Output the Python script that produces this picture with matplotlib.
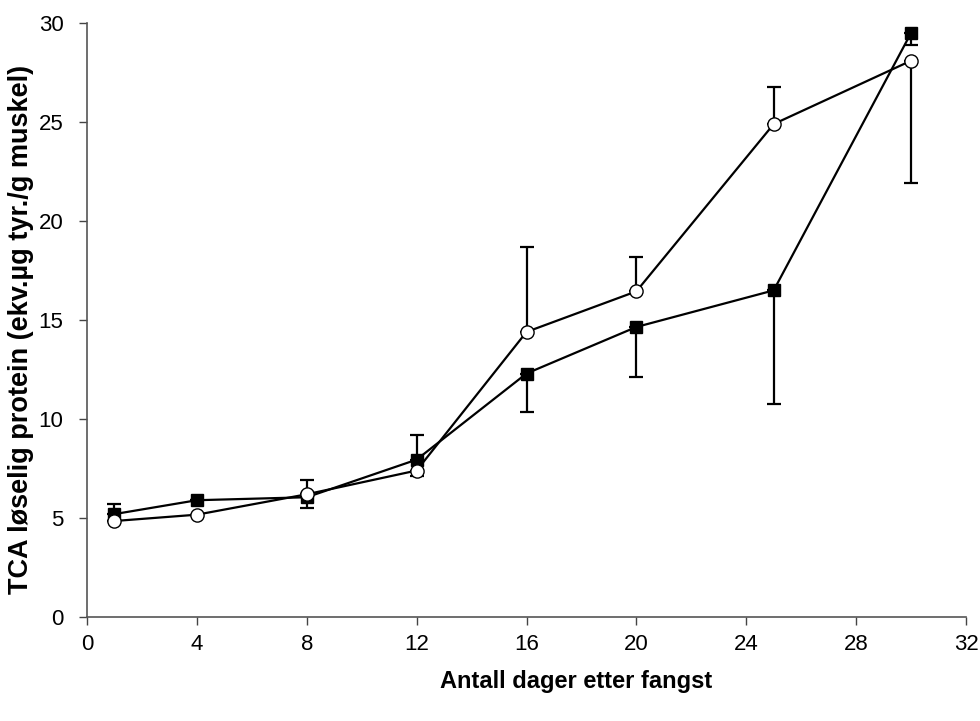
import matplotlib
matplotlib.use("Agg")
import matplotlib.pyplot as plt
import numpy as np

plt.rcParams['font.family'] = ['Liberation Sans', 'DejaVu Sans']

days = [1, 4, 8, 12, 16, 20, 25, 30]
sq_vals = [5.2, 5.9, 6.05, 7.95, 12.3, 14.65, 16.5, 29.5]
sq_err_low = [0, 0, 0.55, 0, 1.95, 2.55, 5.75, 0.6]
sq_err_up = [0.5, 0, 0, 1.25, 0, 0, 0, 0]
ci_vals = [4.85, 5.17, 6.2, 7.4, 14.4, 16.45, 24.9, 28.1]
ci_err_low = [0, 0, 0, 0.3, 0, 0, 0, 6.2]
ci_err_up = [0, 0, 0.7, 0, 4.27, 1.73, 1.85, 0]

xticks = [0, 4, 8, 12, 16, 20, 24, 28, 32]
yticks = [0, 5, 10, 15, 20, 25, 30]

fig = plt.figure(figsize=(9.8, 7.21), dpi=100)
ax = fig.add_axes([0.0888, 0.1442, 0.8969, 0.8238])

ax.errorbar(days, sq_vals, yerr=[sq_err_low, sq_err_up], fmt='none',
            ecolor='black', elinewidth=1.6, capsize=5, capthick=1.6, zorder=2)
ax.errorbar(days, ci_vals, yerr=[ci_err_low, ci_err_up], fmt='none',
            ecolor='black', elinewidth=1.6, capsize=5, capthick=1.6, zorder=2)
ax.plot(days, sq_vals, color='black', lw=1.6, marker='s', markersize=9,
        markerfacecolor='black', markeredgecolor='black', zorder=3)
ax.plot(days, ci_vals, color='black', lw=1.6, marker='o', markersize=9.5,
        markerfacecolor='white', markeredgecolor='black', markeredgewidth=1.0, zorder=4)

ax.set_xlim(0, 32)
ax.set_ylim(0, 30)
ax.set_xticks(xticks)
ax.set_yticks(yticks)
ax.tick_params(axis='both', labelsize=16, length=6, width=1, color='#444444')
ax.tick_params(axis='x', pad=6)
ax.tick_params(axis='y', pad=11)
for s in ['top', 'right']:
    ax.spines[s].set_visible(False)
for s in ['left', 'bottom']:
    ax.spines[s].set_color('#555555')
    ax.spines[s].set_linewidth(1.2)

ax.set_xlabel('Antall dager etter fangst', fontsize=17, fontweight='bold', labelpad=11)
ax.xaxis.label.set_x(0.556)
ax.set_ylabel('TCA løselig protein (ekv.µg tyr./g muskel)', fontsize=19.5, fontweight='bold', labelpad=3)
ax.yaxis.label.set_y(0.485)

fig.savefig('out.png', dpi=100)
